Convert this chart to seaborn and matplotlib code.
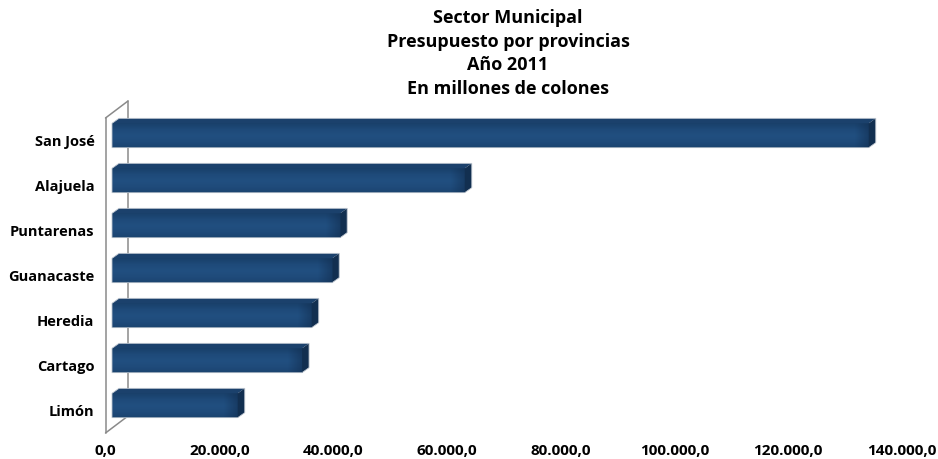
import numpy as np
import pandas as pd
import matplotlib
matplotlib.use("Agg")
import matplotlib.pyplot as plt
from matplotlib.patches import Polygon
from matplotlib.lines import Line2D
from matplotlib.transforms import ScaledTranslation, IdentityTransform
from matplotlib.colors import LinearSegmentedColormap
from matplotlib.ticker import FixedLocator, FuncFormatter
import seaborn as sns

# Presupuesto municipal 2011 por provincia (millones de colones)
provincias = ["San José", "Alajuela", "Puntarenas", "Guanacaste", "Heredia", "Cartago", "Limón"]
presupuesto = [133000, 62000, 40100, 38700, 35100, 33400, 22100]
marcas_x = [0, 20000, 40000, 60000, 80000, 100000, 120000, 140000]
titulo = ["Sector Municipal", "Presupuesto por provincias", "Año 2011", "En millones de colones"]

sns.set_theme(style="white")
plt.rcParams["font.family"] = ["Open Sans", "DejaVu Sans"]

W, H = 938, 459
DPI = 100
fig = plt.figure(figsize=(W / DPI, H / DPI), dpi=DPI)
fig.patch.set_facecolor("white")

# axes = front plane of the 3-D box
ax = fig.add_axes([105.5 / W, (H - 433) / H, 796.6 / W, 315 / H])
ax.set_facecolor("none")

df = pd.DataFrame({"provincia": provincias, "monto": presupuesto})
sns.barplot(data=df, y="provincia", x="monto", orient="h", color="#1f4b7c",
            saturation=1, width=0.54, ax=ax, zorder=3)

ax.set_xlim(0, 140000)
ax.set_ylim(len(provincias) - 0.5, -0.5)

# pseudo 3-D offsets (pixels)
bar_shift = (6.5, 5.0)      # bars sit a little behind the front plane
bar_depth = (7.0, 5.0)      # thickness of each bar
wall_depth = (22.5, 17.0)   # depth of the side wall

def px(dx, dy):
    return ScaledTranslation(dx / DPI, dy / DPI, fig.dpi_scale_trans)

bar_trans = ax.transData + px(*bar_shift)
ident = IdentityTransform()

cmap = LinearSegmentedColormap.from_list(
    "barra", ["#19406a", "#1e4a79", "#214f80", "#1f4b7b", "#1b446f"])
grad = np.linspace(0, 1, 64).reshape(-1, 1)
# darker shading toward the right end of every bar
end_cmap = LinearSegmentedColormap.from_list(
    "extremo", [(0.07, 0.18, 0.31, 0.0), (0.07, 0.18, 0.31, 0.55)])
end_grad = np.linspace(0, 1, 32).reshape(1, -1)

fig.canvas.draw()
bars = list(ax.patches)
for bar in bars:
    bar.set_transform(bar_trans)
    bar.set_edgecolor("none")
    x0, y0 = bar.get_x(), bar.get_y()
    w, h = bar.get_width(), bar.get_height()
    im = ax.imshow(grad, extent=[x0, x0 + w, y0 + h, y0], aspect="auto", cmap=cmap,
                   origin="upper", interpolation="bilinear", zorder=3.5)
    im.set_transform(bar_trans)
    im.set_clip_path(bar)

    # display coordinates of the front face corners
    (lx, ty), (rx, by) = bar_trans.transform([(x0, y0), (x0 + w, y0 + h)])
    dx, dy = bar_depth

    shade = ax.imshow(end_grad, extent=[rx - 14, rx, by, ty], aspect="auto",
                      cmap=end_cmap, origin="upper", interpolation="bilinear", zorder=3.55)
    shade.set_transform(ident)
    shade.set_clip_path(bar)

    top = Polygon([(lx, ty), (rx, ty), (rx + dx, ty + dy), (lx + dx, ty + dy)],
                  closed=True, transform=ident, facecolor="#1b416c", edgecolor="none",
                  zorder=3.6, clip_on=False)
    side = Polygon([(rx, by), (rx, ty), (rx + dx, ty + dy), (rx + dx, by + dy)],
                   closed=True, transform=ident, facecolor="#122f50", edgecolor="none",
                   zorder=3.6, clip_on=False)
    outline = Polygon([(lx, by), (lx, ty), (lx + dx, ty + dy), (rx + dx, ty + dy),
                       (rx + dx, by + dy), (rx, by)],
                      closed=True, transform=ident, facecolor="none",
                      edgecolor="#bcc4ce", linewidth=0.6, zorder=3.7, clip_on=False)
    ax.add_artist(top)
    ax.add_artist(side)
    ax.add_artist(outline)

ax.set_xlim(0, 140000)
ax.set_ylim(len(provincias) - 0.5, -0.5)

# side wall at x = 0, drawn behind the bars
wall_col = "#8a8a8a"
y_top, y_bot = -0.5, len(provincias) - 0.5
(fx, fty), (_, fby) = ax.transData.transform([(0, y_top), (0, y_bot)])
wx, wy = wall_depth
for (a, b), (c, d) in [((fx, fty), (fx, fby)),
                       ((fx + wx, fty + wy), (fx + wx, fby + wy)),
                       ((fx, fty), (fx + wx, fty + wy)),
                       ((fx, fby), (fx + wx, fby + wy))]:
    ax.add_artist(Line2D([a, c], [b, d], transform=ident, color=wall_col,
                         linewidth=1.1, zorder=2.9, clip_on=False))

for s in ax.spines.values():
    s.set_visible(False)
ax.grid(False)
ax.set_xlabel("")
ax.set_ylabel("")
ax.xaxis.set_major_locator(FixedLocator(marcas_x))
ax.xaxis.set_major_formatter(FuncFormatter(
    lambda v, p: f"{v:,.1f}".replace(",", "X").replace(".", ",").replace("X", ".")))
ax.tick_params(axis="x", length=0, pad=8, labelsize=11, labelcolor="black")
ax.tick_params(axis="y", length=0, pad=8, labelsize=10.5, labelcolor="black")
for lab in ax.get_xticklabels() + ax.get_yticklabels():
    lab.set_fontweight("bold")

fig.text(508 / W, 1 - 9 / H, "\n".join(titulo), ha="center", va="top",
         fontsize=13, fontweight="bold", linespacing=1.41, color="black")

fig.savefig("out.png", dpi=DPI, facecolor="white")
